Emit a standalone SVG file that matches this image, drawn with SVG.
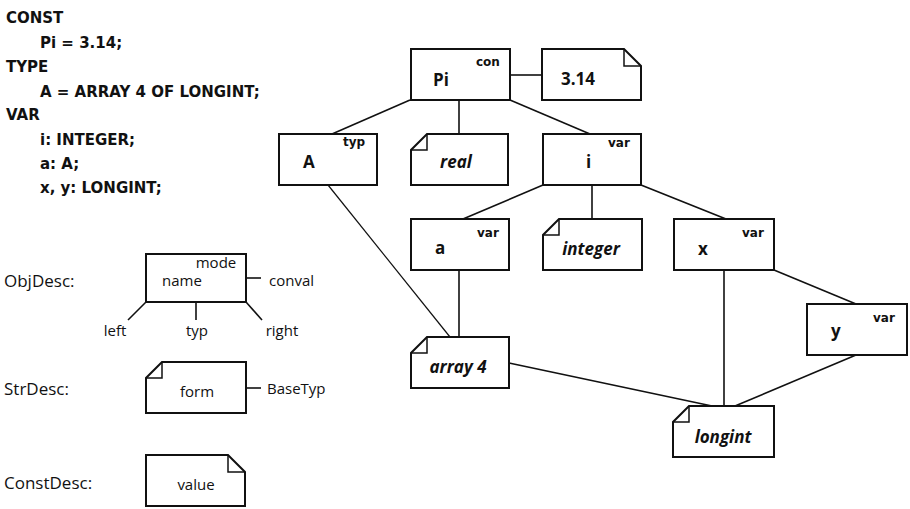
<svg xmlns="http://www.w3.org/2000/svg" width="910" height="509" viewBox="0 0 910 509">
<style>
  text { font-family: "DejaVu Sans", "Liberation Sans", sans-serif; fill: #111; }
  .code { font-size: 15px; font-weight: bold; }
  .lbl { font-family: "Open Sans", "DejaVu Sans", sans-serif; font-size: 17px; }
  .fld { font-family: "Open Sans", "DejaVu Sans", sans-serif; font-size: 15px; }
  .mid { text-anchor: middle; }
  .name { font-family: "Open Sans", "DejaVu Sans", sans-serif; font-size: 17px; font-weight: bold; }
  .mode { font-size: 12px; font-weight: bold; }
  .ty { font-family: "Open Sans", "DejaVu Sans", sans-serif; font-size: 17px; font-weight: bold; font-style: italic; text-anchor: middle; }
  .box { fill: #fff; stroke: #111; stroke-width: 2; stroke-linejoin: miter; }
  .ear { fill: none; stroke: #111; stroke-width: 1.5; }
  .con line { stroke: #111; stroke-width: 1.6; }
</style>

<g id="code">
  <text class="code" x="6" y="23">CONST</text>
  <text class="code" x="40" y="48">Pi = 3.14;</text>
  <text class="code" x="6" y="72">TYPE</text>
  <text class="code" x="40" y="97">A = ARRAY 4 OF LONGINT;</text>
  <text class="code" x="6" y="120">VAR</text>
  <text class="code" x="40" y="145">i: INTEGER;</text>
  <text class="code" x="40" y="169">a: A;</text>
  <text class="code" x="40" y="193">x, y: LONGINT;</text>
</g>

<g id="connectors" class="con">
  <line x1="510" y1="75" x2="542" y2="75"/>
  <line x1="410" y1="100" x2="332" y2="134"/>
  <line x1="459" y1="100" x2="459" y2="134"/>
  <line x1="510" y1="100" x2="590" y2="134"/>
  <line x1="543" y1="185" x2="463" y2="219"/>
  <line x1="592" y1="185" x2="592" y2="219"/>
  <line x1="641" y1="185" x2="726" y2="219"/>
  <line x1="328" y1="185" x2="450" y2="337" style="stroke-width:1.2"/>
  <line x1="459" y1="270" x2="459" y2="337"/>
  <line x1="724" y1="270" x2="724" y2="406"/>
  <line x1="774" y1="270" x2="856" y2="304"/>
  <line x1="509" y1="363" x2="712" y2="406"/>
  <line x1="856" y1="355" x2="735" y2="406"/>
  <line x1="246" y1="278" x2="261" y2="278"/>
  <line x1="146" y1="302" x2="128" y2="320"/>
  <line x1="196" y1="302" x2="196" y2="320"/>
  <line x1="246" y1="302" x2="262" y2="320"/>
  <line x1="246" y1="388" x2="261" y2="388"/>
</g>

<g id="node-Pi">
  <rect class="box" x="411" y="49" width="99" height="51"/>
  <text class="name" x="433" y="86">Pi</text>
  <text class="mode" x="476" y="66">con</text>
</g>
<g id="node-3.14">
  <path class="box" d="M542,49 H624 L641,66 V100 H542 Z"/>
  <path class="ear" d="M624,49 V66 H641"/>
  <text class="name" x="561" y="85">3.14</text>
</g>
<g id="node-A">
  <rect class="box" x="279" y="134" width="98" height="51"/>
  <text class="name" x="303" y="168">A</text>
  <text class="mode" x="343" y="146">typ</text>
</g>
<g id="node-real">
  <path class="box" d="M427,134 H508 V185 H411 V150 Z"/>
  <path class="ear" d="M427,134 V150 H411"/>
  <text class="ty" x="456" y="168">real</text>
</g>
<g id="node-i">
  <rect class="box" x="543" y="134" width="98" height="51"/>
  <text class="name" x="586" y="168">i</text>
  <text class="mode" x="608" y="147">var</text>
</g>
<g id="node-a">
  <rect class="box" x="411" y="219" width="98" height="51"/>
  <text class="name" x="435" y="254">a</text>
  <text class="mode" x="477" y="237">var</text>
</g>
<g id="node-integer">
  <path class="box" d="M559,219 H642 V270 H543 V235 Z"/>
  <path class="ear" d="M559,219 V235 H543"/>
  <text class="ty" x="591" y="255">integer</text>
</g>
<g id="node-x">
  <rect class="box" x="674" y="219" width="100" height="51"/>
  <text class="name" x="698" y="255">x</text>
  <text class="mode" x="742" y="237">var</text>
</g>
<g id="node-y">
  <rect class="box" x="807" y="304" width="100" height="51"/>
  <text class="name" x="831" y="337">y</text>
  <text class="mode" x="873" y="322">var</text>
</g>
<g id="node-array4">
  <path class="box" d="M427,337 H509 V388 H411 V353 Z"/>
  <path class="ear" d="M427,337 V353 H411"/>
  <text class="ty" x="458" y="373">array 4</text>
</g>
<g id="node-longint">
  <path class="box" d="M689,406 H774 V457 H673 V422 Z"/>
  <path class="ear" d="M689,406 V422 H673"/>
  <text class="ty" x="723" y="443">longint</text>
</g>

<g id="legend-ObjDesc">
  <text class="lbl" x="4" y="287">ObjDesc:</text>
  <rect class="box" x="146" y="254" width="100" height="48"/>
  <text class="fld mid" x="216" y="268">mode</text>
  <text class="fld mid" x="182" y="286">name</text>
  <text class="fld" x="269" y="286">conval</text>
  <text class="fld mid" x="115" y="336">left</text>
  <text class="fld mid" x="197" y="336">typ</text>
  <text class="fld mid" x="282" y="336">right</text>
</g>
<g id="legend-StrDesc">
  <text class="lbl" x="4" y="395">StrDesc:</text>
  <path class="box" d="M162,362 H246 V413 H146 V378 Z"/>
  <path class="ear" d="M162,362 V378 H146"/>
  <text class="fld mid" x="197" y="397">form</text>
  <text class="fld" x="267" y="394">BaseTyp</text>
</g>
<g id="legend-ConstDesc">
  <text class="lbl" x="4" y="489">ConstDesc:</text>
  <path class="box" d="M146,455 H228 L245,472 V506 H146 Z"/>
  <path class="ear" d="M228,455 V472 H245"/>
  <text class="fld mid" x="196" y="490">value</text>
</g>
</svg>
